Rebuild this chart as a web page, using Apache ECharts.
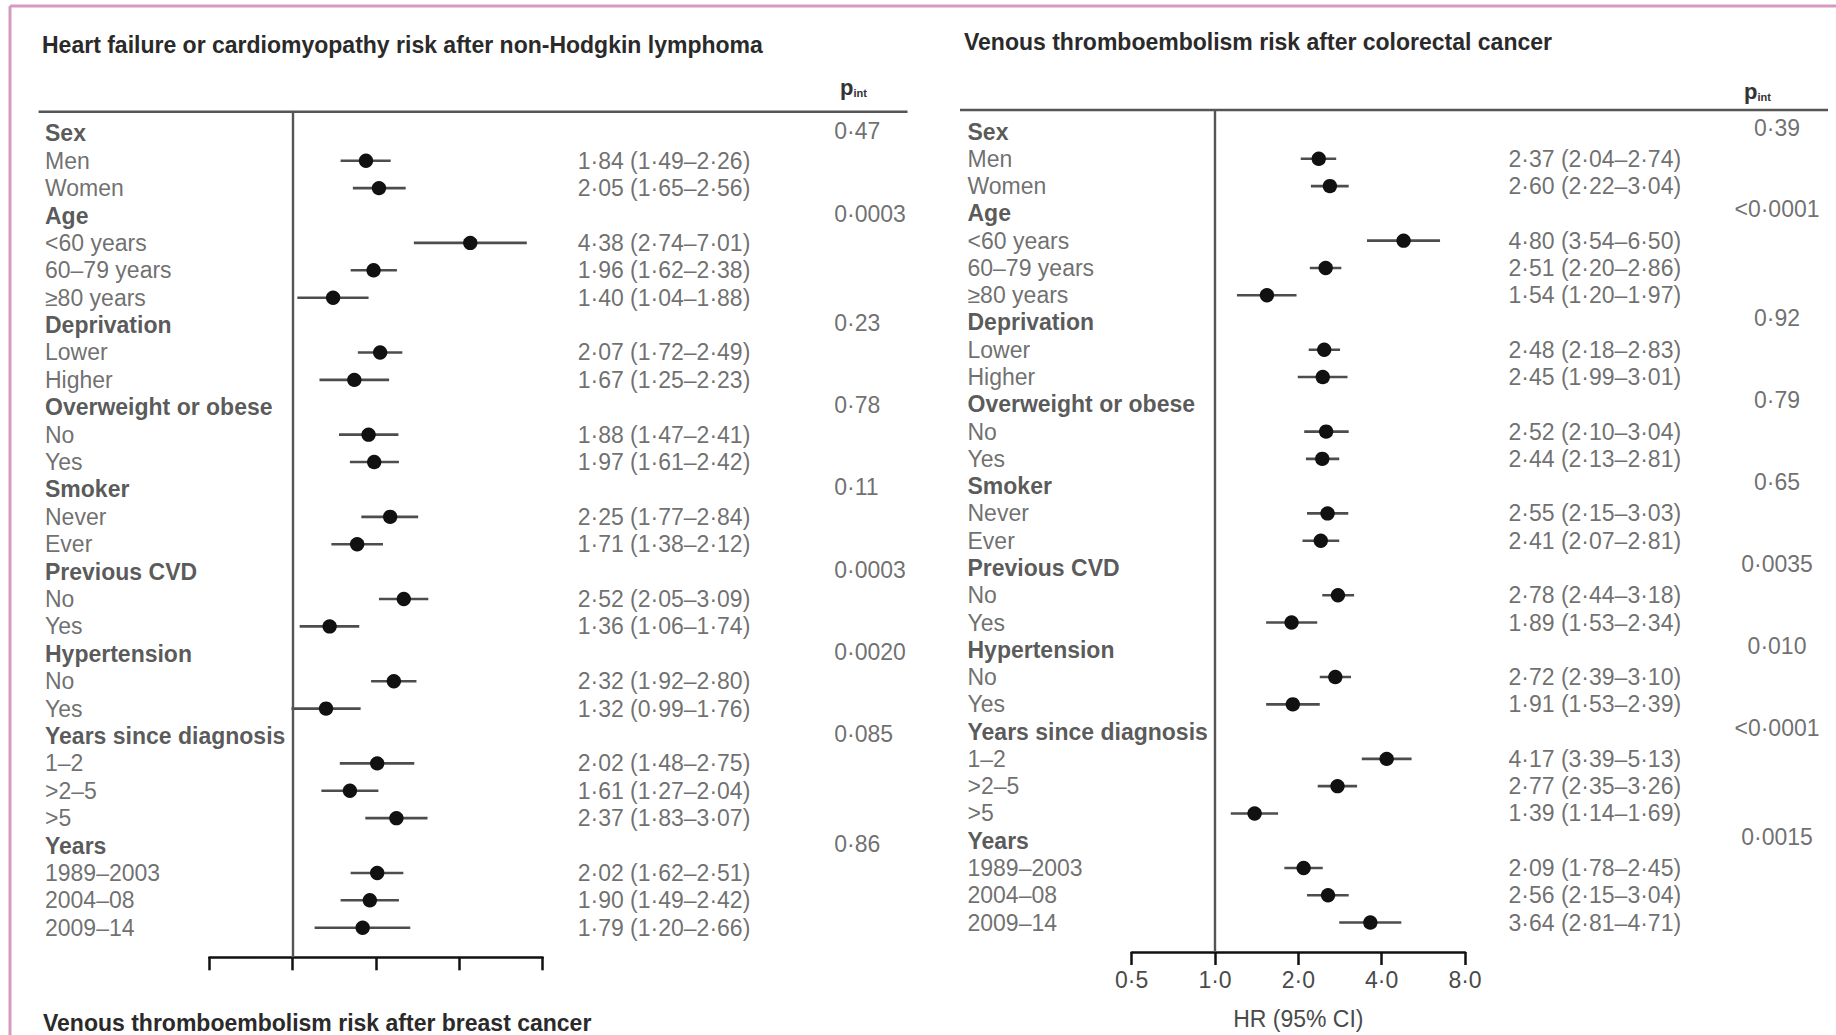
<!DOCTYPE html>
<html>
<head>
<meta charset="utf-8">
<script src="https://cdn.jsdelivr.net/npm/echarts@6/dist/echarts.min.js"></script>
<style>
html,body{margin:0;padding:0;background:#fff;}
#chart{width:1836px;height:1035px;}
</style>
</head>
<body>
<div id="chart"></div>
<script>
// ---------- data ----------
const rowLabels = ['Sex','Men','Women','Age','<60 years','60–79 years','≥80 years','Deprivation','Lower','Higher',
  'Overweight or obese','No','Yes','Smoker','Never','Ever','Previous CVD','No','Yes','Hypertension','No','Yes',
  'Years since diagnosis','1–2','>2–5','>5','Years','1989–2003','2004–08','2009–14'];
const headerRows = [0,3,7,10,13,16,19,22,26];

// Heart failure or cardiomyopathy risk after non-Hodgkin lymphoma
const nhlHR   = [null,1.84,2.05,null,4.38,1.96,1.40,null,2.07,1.67,null,1.88,1.97,null,2.25,1.71,null,2.52,1.36,null,2.32,1.32,null,2.02,1.61,2.37,null,2.02,1.90,1.79];
const nhlLow  = [null,1.49,1.65,null,2.74,1.62,1.04,null,1.72,1.25,null,1.47,1.61,null,1.77,1.38,null,2.05,1.06,null,1.92,0.99,null,1.48,1.27,1.83,null,1.62,1.49,1.20];
const nhlHigh = [null,2.26,2.56,null,7.01,2.38,1.88,null,2.49,2.23,null,2.41,2.42,null,2.84,2.12,null,3.09,1.74,null,2.80,1.76,null,2.75,2.04,3.07,null,2.51,2.42,2.66];
const nhlP    = ['0·47','0·0003','0·23','0·78','0·11','0·0003','0·0020','0·085','0·86'];

// Venous thromboembolism risk after colorectal cancer
const crcHR   = [null,2.37,2.60,null,4.80,2.51,1.54,null,2.48,2.45,null,2.52,2.44,null,2.55,2.41,null,2.78,1.89,null,2.72,1.91,null,4.17,2.77,1.39,null,2.09,2.56,3.64];
const crcLow  = [null,2.04,2.22,null,3.54,2.20,1.20,null,2.18,1.99,null,2.10,2.13,null,2.15,2.07,null,2.44,1.53,null,2.39,1.53,null,3.39,2.35,1.14,null,1.78,2.15,2.81];
const crcHigh = [null,2.74,3.04,null,6.50,2.86,1.97,null,2.83,3.01,null,3.04,2.81,null,3.03,2.81,null,3.18,2.34,null,3.10,2.39,null,5.13,3.26,1.69,null,2.45,3.04,4.71];
const crcP    = ['0·39','<0·0001','0·92','0·79','0·65','0·0035','0·010','<0·0001','0·0015'];

const axisMin = 0.5, axisMax = 8, refHR = 1;
const titles = ['Heart failure or cardiomyopathy risk after non-Hodgkin lymphoma',
                'Venous thromboembolism risk after colorectal cancer',
                'Venous thromboembolism risk after breast cancer'];
const axisName = 'HR (95% CI)';

// ---------- helpers ----------
const FONT = 'Liberation Sans, Arial, sans-serif';
const fmt = v => v.toFixed(2).replace('.', '·');
const fmtTick = v => Number(v).toFixed(1).replace('.', '·');

function panel(k, hr, lo, hi, pvals, cfg) {
  const ciData = [];
  const hrText = [];
  hr.forEach((v, i) => {
    if (v == null) return;
    ciData.push([v, lo[i], hi[i], i]);
    hrText.push({ value: [axisMax, i], name: fmt(v) + ' (' + fmt(lo[i]) + '–' + fmt(hi[i]) + ')' });
  });
  const lblData = rowLabels.map((t, i) => {
    const h = headerRows.includes(i);
    return { value: [axisMin, i], name: t,
      label: { fontWeight: h ? 'bold' : 'normal', color: h ? '#2e2e2e' : '#4a4a4a' } };
  });
  const pData = headerRows.map((r, j) => ({ value: [axisMax, r], name: pvals[j] }));
  const common = { type: 'scatter', xAxisIndex: k, yAxisIndex: k, symbolSize: 1,
    itemStyle: { color: 'rgba(0,0,0,0)' }, silent: true, clip: false, z: 3 };
  return [
    {
      type: 'custom', xAxisIndex: k, yAxisIndex: k, clip: false, silent: true, z: 4,
      data: ciData,
      encode: { x: [0, 1, 2], y: 3 },
      renderItem: (params, api) => {
        const c = api.coord([api.value(0), api.value(3)]);
        const l = api.coord([api.value(1), api.value(3)]);
        const h = api.coord([api.value(2), api.value(3)]);
        return { type: 'group', children: [
          { type: 'line', shape: { x1: l[0], y1: l[1], x2: h[0], y2: h[1] },
            style: { stroke: '#4d4d4d', lineWidth: 2.6 } },
          { type: 'circle', shape: { cx: c[0], cy: c[1], r: 7.2 }, style: { fill: '#111' } }
        ]};
      },
      markLine: { silent: true, symbol: 'none', label: { show: false },
        lineStyle: { color: '#555', width: 2.4, type: 'solid' },
        data: [{ xAxis: refHR }] }
    },
    Object.assign({}, common, { data: lblData,
      label: { show: true, formatter: '{b}', position: 'right', distance: 0, offset: [cfg.lblOff, 0],
        fontFamily: FONT, fontSize: 23 } }),
    Object.assign({}, common, { data: hrText,
      label: { show: true, formatter: '{b}', position: 'right', distance: 0, offset: [cfg.hrOff, 0],
        fontFamily: FONT, fontSize: 23, color: '#4a4a4a' } }),
    Object.assign({}, common, { data: pData,
      label: { show: true, formatter: '{b}', position: 'right', distance: 0, offset: [cfg.pOff, cfg.pDy],
        align: cfg.pAlign, fontFamily: FONT, fontSize: 23, color: '#4a4a4a' } })
  ];
}

function xAxisFor(k, showLabels) {
  return {
    gridIndex: k, type: 'log', logBase: 2, min: axisMin, max: axisMax, position: 'bottom',
    axisLine: { onZero: false, lineStyle: { color: '#111', width: 2.5 } },
    axisTick: { show: true, inside: false, length: 13, lineStyle: { color: '#111', width: 2.5 } },
    splitLine: { show: false },
    axisLabel: { show: showLabels, formatter: fmtTick, fontFamily: FONT, fontSize: 23, color: '#4a4a4a', margin: 16 },
    name: showLabels ? axisName : '', nameLocation: 'middle', nameGap: 55,
    nameTextStyle: { fontFamily: FONT, fontSize: 23, color: '#4a4a4a' }
  };
}
function yAxisFor(k) {
  return { gridIndex: k, type: 'value', inverse: true, min: -0.79, max: 30.08, show: false };
}

const pHeader = (left, top) => ({
  left, top,
  text: '{p|p}{s|int}',
  textStyle: { rich: {
    p: { fontFamily: FONT, fontSize: 22, fontWeight: 'bold', color: '#333' },
    s: { fontFamily: FONT, fontSize: 11, color: '#333', verticalAlign: 'bottom' }
  } }
});
const titleStyle = { fontFamily: FONT, fontSize: 23, fontWeight: 'bold', color: '#2a2a2a' };

const chart = echarts.init(document.getElementById('chart'), null, { renderer: 'svg' });
chart.setOption({
  animation: false,
  backgroundColor: '#fff',
  title: [
    { text: titles[0], left: 37, top: 28, textStyle: titleStyle },
    { text: titles[1], left: 959, top: 25, textStyle: titleStyle },
    { text: titles[2], left: 38, top: 1006, textStyle: titleStyle },
    pHeader(835, 71),
    pHeader(1739, 75)
  ],
  grid: [
    { left: 209.3, width: 333.4, top: 111.7, height: 845.6 },
    { left: 1131.7, width: 333.3, top: 110, height: 845 }
  ],
  xAxis: [xAxisFor(0, false), xAxisFor(1, true)],
  yAxis: [yAxisFor(0), yAxisFor(1)],
  graphic: [
    // pink frame
    { type: 'line', shape: { x1: 10, y1: 6, x2: 1836, y2: 6 }, style: { stroke: '#d59bbf', lineWidth: 3 }, silent: true },
    { type: 'line', shape: { x1: 10, y1: 6, x2: 10, y2: 1035 }, style: { stroke: '#d59bbf', lineWidth: 3 }, silent: true },
    // header rules
    { type: 'line', shape: { x1: 38.6, y1: 111.7, x2: 907.5, y2: 111.7 }, style: { stroke: '#555', lineWidth: 2.4 }, silent: true },
    { type: 'line', shape: { x1: 960, y1: 110, x2: 1828, y2: 110 }, style: { stroke: '#555', lineWidth: 2.4 }, silent: true }
  ],
  series: [
    ...panel(0, nhlHR, nhlLow, nhlHigh, nhlP, { lblOff: -164.8, hrOff: 34.5, pOff: 291, pDy: -2, pAlign: 'left' }),
    ...panel(1, crcHR, crcLow, crcHigh, crcP, { lblOff: -164.7, hrOff: 43, pOff: 311.5, pDy: -4, pAlign: 'center' })
  ]
});
</script>
</body>
</html>
